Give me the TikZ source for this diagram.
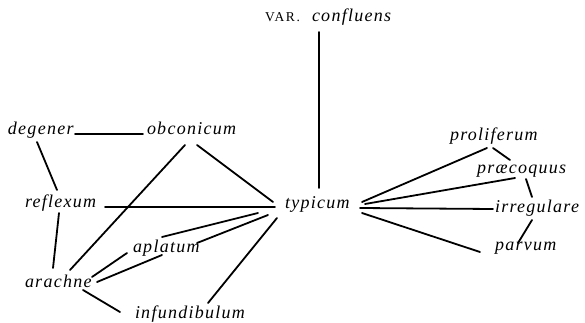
\documentclass[tikz,border=0pt]{standalone}
\usepackage{fontspec}
\newfontfamily\labfam[LetterSpace=7]{Liberation Serif}
\newfontfamily\capfam[LetterSpace=12]{Liberation Serif}
\newcommand\labfont{\labfam\itshape\fontsize{18}{21}\selectfont}
\newcommand\capfont{\capfam\fontsize{13.5}{16}\selectfont}
\tikzset{
  lab/.style={font=\labfont, inner sep=0pt, outer sep=0pt, anchor=base west},
  varlab/.style={font=\capfont, inner sep=0pt, outer sep=0pt, anchor=base west},
  link/.style={line width=1.8pt, line cap=round}
}
\begin{document}
\begin{tikzpicture}[x=1pt, y=-1pt]
\useasboundingbox (0,0) rectangle (585,323);
\fill[white] (0,0) rectangle (585,323);

% labels
\node[varlab] (var) at (265,22) {VAR.};
\node[lab] (confluens) at (312,22) {confluens};
\node[lab] (degener) at (8,135) {degener};
\node[lab] (obconicum) at (147,135) {obconicum};
\node[lab] (reflexum) at (25,207) {reflexum};
\node[lab] (typicum) at (285,208) {typicum};
\node[lab] (aplatum) at (133,252) {aplatum};
\node[lab] (arachne) at (25,287) {arachne};
\node[lab] (infundibulum) at (135,318) {infundibulum};
\node[lab] (proliferum) at (450,140) {proliferum};
\node[lab] (praecoquus) at (477,173) {præcoquus};
\node[lab] (irregulare) at (495,212) {irregulare};
\node[lab] (parvum) at (495,250) {parvum};

% connectors (end points offset from each label's base west)
\draw[link] ([shift={(7,10)}]confluens.base west) -- ([shift={(34,-20)}]typicum.base west);
\draw[link] ([shift={(67,-1)}]degener.base west) -- ([shift={(-4,-1)}]obconicum.base west);
\draw[link] ([shift={(29,7)}]degener.base west) -- ([shift={(32,-17)}]reflexum.base west);
\draw[link] ([shift={(38,10)}]obconicum.base west) -- ([shift={(45,-17)}]arachne.base west);
\draw[link] ([shift={(50,10)}]obconicum.base west) -- ([shift={(-12,-6)}]typicum.base west);
\draw[link] ([shift={(80,0)}]reflexum.base west) -- ([shift={(-10,-1)}]typicum.base west);
\draw[link] ([shift={(34,6)}]reflexum.base west) -- ([shift={(28,-19)}]arachne.base west);
\draw[link] ([shift={(29,-15)}]aplatum.base west) -- ([shift={(-27,5)}]typicum.base west);
\draw[link] ([shift={(67,-10)}]arachne.base west) -- ([shift={(-6,1)}]aplatum.base west);
\draw[link] ([shift={(72,-5)}]arachne.base west) -- ([shift={(29,3)}]aplatum.base west);
\draw[link] ([shift={(64,-9)}]aplatum.base west) -- ([shift={(-17,7)}]typicum.base west);
\draw[link] ([shift={(58,3)}]arachne.base west) -- ([shift={(-15,-6)}]infundibulum.base west);
\draw[link] ([shift={(-8,10)}]typicum.base west) -- ([shift={(73,-15)}]infundibulum.base west);
\draw[link] ([shift={(77,-6)}]typicum.base west) -- ([shift={(37,8)}]proliferum.base west);
\draw[link] ([shift={(43,8)}]proliferum.base west) -- ([shift={(33,-13)}]praecoquus.base west);
\draw[link] ([shift={(80,-4)}]typicum.base west) -- ([shift={(38,5)}]praecoquus.base west);
\draw[link] ([shift={(49,6)}]praecoquus.base west) -- ([shift={(37,-15)}]irregulare.base west);
\draw[link] ([shift={(75,0)}]typicum.base west) -- ([shift={(-2,-3)}]irregulare.base west);
\draw[link] ([shift={(37,8)}]irregulare.base west) -- ([shift={(23,-7)}]parvum.base west);
\draw[link] ([shift={(77,5)}]typicum.base west) -- ([shift={(-15,2)}]parvum.base west);
\end{tikzpicture}
\end{document}
